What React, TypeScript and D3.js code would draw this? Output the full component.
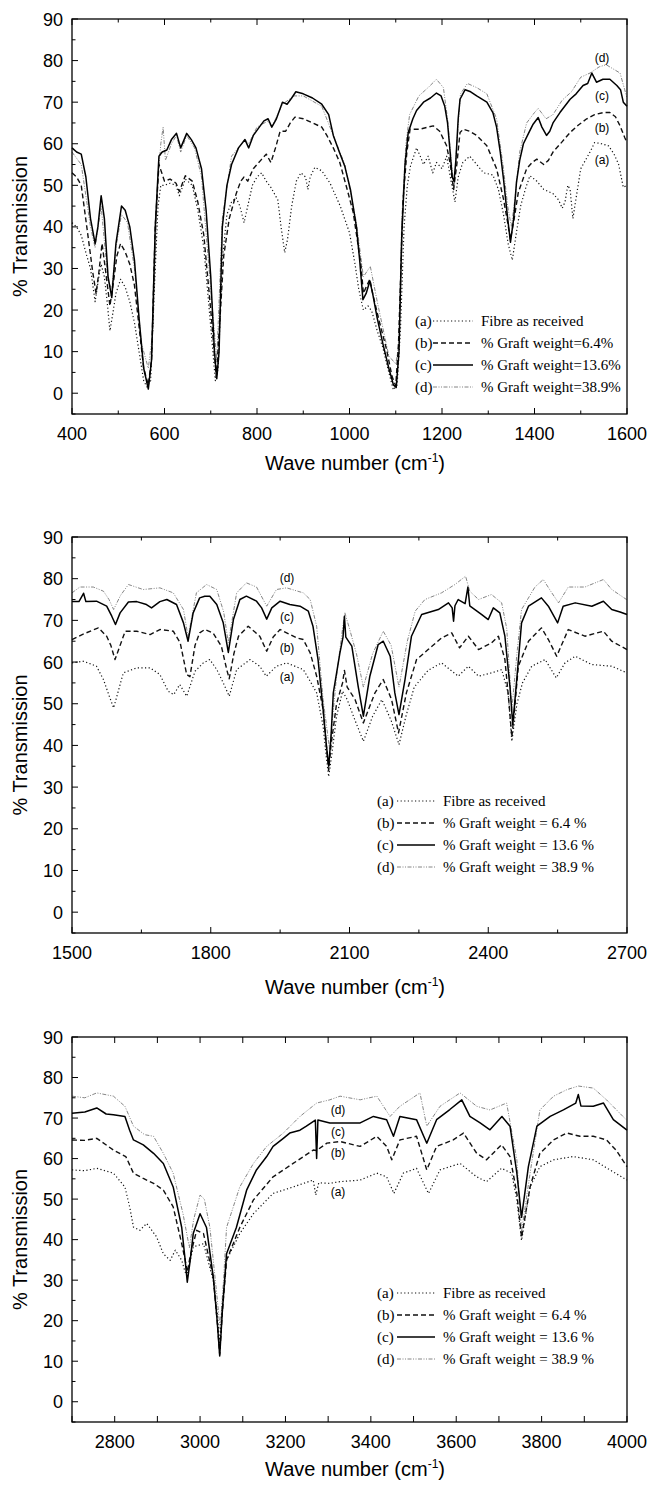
import React from "react";
import * as d3 from "d3";

type Pt = [number, number];

// ---- panel 1 : 400-1600 cm-1 ----
const p1A: Pt[] = [[400,41],[410,40],[420,38],[432,33],[440,30],[450,22],[458,28],[463,31],[470,28],[476,22],[482,15],[488,19],[495,24],[505,27.4],[515,25.5],[525,22],[535,17],[545,10],[555,3],[562,1.5],[570,3],[578,25],[586,45],[592,50],[600,50],[612,50.5],[625,50],[632,47.5],[645,51.5],[660,50],[672,44],[685,35],[700,16],[710,3],[716,6],[725,32],[735,43],[745,46],[755,47],[763,45],[772,41],[780,45],[790,50],[800,52],[810,53],[820,51],[830,49.5],[845,46.5],[852,40],[860,33.8],[866,37],[875,45],[885,51],[895,53],[905,52],[910,49],[915,52],[925,54.3],[940,53.5],[958,50.5],[980,45],[1000,38.6],[1012,31],[1020,25],[1030,20],[1040,21],[1048,19.8],[1060,15],[1072,11],[1085,5],[1095,0.8],[1103,2],[1110,15],[1118,40],[1125,50],[1132,54.7],[1145,59],[1153,57],[1160,55],[1170,57],[1180,53],[1188,55.5],[1200,54],[1210,57],[1218,52],[1228,46],[1235,52],[1245,55.5],[1260,57],[1275,55],[1290,53],[1310,52.5],[1322,49],[1333,43],[1343,36],[1352,32],[1360,38],[1370,45],[1380,49],[1390,52.3],[1405,51],[1420,49],[1440,48],[1452,46.5],[1460,44.5],[1466,46],[1472,50],[1477,49],[1483,42],[1490,47],[1500,54],[1510,56],[1520,58],[1530,60.3],[1545,60],[1560,59.5],[1572,57.5],[1582,55],[1592,49.5],[1600,50]];
const p1B: Pt[] = [[400,53],[410,52],[420,50],[432,40],[445,29],[452,24],[458,29],[465,36],[472,30],[482,21],[490,27],[497,33],[505,36],[515,34],[525,31],[535,26],[545,16],[555,6],[565,2],[572,8],[580,40],[588,55],[594,53],[600,51],[612,51.5],[625,50.5],[632,48.5],[645,52.3],[660,51],[672,46],[685,38],[700,20],[712,4],[720,18],[728,33],[740,42],[755,48],[765,51],[772,52],[780,51],[792,54],[808,56],[820,57.5],[830,55.5],[840,59],[850,63],[862,63],[872,65],[882,66.4],[900,66],[920,65],[940,64],[951,62],[965,59],[979,55.5],[995,49],[1008,43.5],[1018,36],[1025,30.6],[1030,24],[1038,26],[1044,27.4],[1050,24],[1065,17],[1080,10.6],[1092,4],[1100,1.8],[1106,12],[1116,46.7],[1124,58],[1131,63.5],[1152,63.5],[1170,64],[1181,64.3],[1195,63],[1210,59.5],[1218,55],[1225,49],[1232,55],[1239,62.7],[1246,63.5],[1260,63],[1275,62],[1297,59.5],[1318,54],[1333,46.7],[1342,41],[1348,37],[1356,42],[1365,48.3],[1383,54],[1395,55.5],[1405,56.3],[1420,55],[1430,56],[1440,58],[1460,60.5],[1477,62.7],[1495,64.5],[1513,66],[1530,67],[1549,67.5],[1563,67.5],[1575,66.5],[1585,64.3],[1595,61.5],[1600,60.3]];
const p1C: Pt[] = [[400,59],[410,58],[420,57.5],[430,52],[440,42],[450,36],[456,40],[463,47.5],[470,42],[478,28],[486,23],[495,36],[507,45],[515,44],[525,40],[535,32],[545,18],[555,6],[565,1],[572,8],[580,40],[588,57],[595,58],[605,58.5],[615,61],[626,62.5],[635,59],[648,62.5],[658,61],[668,59],[680,54],[690,44],[700,28],[708,10],[713,3.5],[718,10],[725,40],[735,50],[745,55],[760,59],[774,61],[782,59],[792,62],[805,64],[815,65.5],[824,66],[832,64],[842,66],[855,70],[865,69.5],[875,71],[884,72.5],[900,72],[920,71],[940,69.5],[955,67],[965,62],[978,58],[990,54.5],[1002,49],[1015,40],[1022,32],[1029,22.5],[1036,24],[1044,27],[1050,24],[1060,18],[1072,12],[1085,6],[1095,2],[1101,1.4],[1107,10],[1113,38],[1120,55],[1127,62.7],[1137,66],[1145,68],[1160,70],[1175,71],[1188,72.2],[1198,71.5],[1206,69],[1212,65],[1217,58.7],[1222,52],[1226,51],[1230,56],[1235,66],[1239,70.7],[1250,73],[1262,72.5],[1275,71.5],[1297,70],[1310,67.5],[1318,64],[1326,58],[1333,51.5],[1341,43],[1348,36.3],[1355,42],[1361,50.7],[1368,56],[1376,60],[1387,62.5],[1397,64.7],[1408,66.3],[1416,64],[1426,62],[1433,63],[1440,65],[1455,67.5],[1477,70.7],[1490,72],[1505,74],[1515,74.5],[1524,77],[1534,74.8],[1548,75.5],[1563,75.5],[1578,74],[1586,73],[1592,70],[1600,69]];
const p1D: Pt[] = [[400,58],[420,55],[440,40],[450,35],[463,45],[478,27],[486,25],[495,35],[507,43],[520,41],[535,30],[550,12],[565,6],[575,15],[585,50],[592,60],[597,64],[602,56],[615,60],[626,62],[635,58],[648,62],[665,59],[680,52],[700,25],[713,8],[725,42],[745,57],[774,61],[782,60],[800,64],[824,65.5],[832,64],[855,69.5],[880,71.5],[900,71.5],[940,69],[965,62],[990,55],[1015,41],[1030,28],[1045,30.5],[1060,22],[1085,9],[1100,7],[1107,12],[1113,42],[1122,60],[1130,67],[1150,71.5],[1170,73.5],[1188,75.5],[1203,73.5],[1212,66],[1220,56],[1226,49],[1232,60],[1240,72],[1255,74.5],[1275,73.5],[1297,72],[1318,66],[1333,54],[1342,45],[1350,40],[1358,47],[1368,58],[1383,65],[1400,67.5],[1408,68.5],[1425,66],[1440,67],[1460,70.5],[1480,72.5],[1500,76],[1520,77],[1540,78.5],[1555,79],[1570,78],[1585,77],[1595,73],[1600,71]];

// ---- panel 2 : 1500-2700 cm-1 ----
const p2A: Pt[] = [[1500,59.8],[1525,60.2],[1553,59],[1568,55.8],[1580,52],[1590,49],[1600,53],[1611,57.4],[1640,58.6],[1669,58.6],[1690,57],[1708,53],[1720,52.2],[1733,54.6],[1748,51.8],[1766,57.8],[1784,59.8],[1798,60.6],[1813,58.2],[1827,55],[1840,51.8],[1856,58.2],[1885,60.6],[1906,59],[1920,56.6],[1942,59],[1964,59.8],[2000,58.2],[2015,55.4],[2029,52.6],[2043,44.6],[2050,37],[2055,32.5],[2062,38],[2072,47],[2085,53],[2095,51],[2112,46],[2130,41],[2150,47],[2170,51],[2190,46],[2207,40.2],[2222,47],[2240,54],[2270,58],[2299,59.8],[2335,56.6],[2357,59],[2379,56.6],[2407,57.4],[2429,58.2],[2443,52.6],[2451,41],[2462,50],[2474,55],[2494,59],[2523,60.6],[2547,56.2],[2566,59.8],[2588,61.4],[2624,59.4],[2667,59],[2700,57.4]];
const p2B: Pt[] = [[1500,65.4],[1522,66.6],[1557,68.2],[1575,66.2],[1584,64],[1593,60.6],[1604,64],[1615,67.4],[1640,67.4],[1669,66.6],[1690,67.8],[1719,67.4],[1734,64.6],[1748,57],[1755,56.5],[1766,64],[1776,67],[1787,67.8],[1805,67],[1823,63.8],[1835,58],[1840,56],[1850,62],[1860,66.2],[1881,68.6],[1906,66.2],[1921,62.6],[1935,66],[1950,67.8],[1986,65.8],[2000,65.4],[2015,62.2],[2029,56.6],[2043,48.6],[2050,40],[2055,34],[2060,40],[2072,50],[2085,55],[2089,58],[2095,54],[2112,51],[2130,45.4],[2155,52.6],[2173,55.8],[2191,51],[2206,43],[2223,52.6],[2245,60.6],[2270,63],[2299,65.8],[2321,67],[2338,63.4],[2357,66.2],[2379,63],[2407,64.6],[2422,66.2],[2436,60.6],[2445,50],[2451,42],[2458,50],[2465,59],[2487,65],[2515,68.2],[2530,65.4],[2548,61.4],[2573,67.8],[2609,66.2],[2649,67.4],[2667,65],[2700,63]];
const p2C: Pt[] = [[1500,74.5],[1515,74.5],[1525,76.5],[1530,74.5],[1553,74.6],[1575,73.4],[1586,71],[1594,69],[1604,71.8],[1622,74.4],[1640,74.5],[1661,73.8],[1672,73],[1690,74.5],[1705,75],[1726,73.8],[1741,69.4],[1751,65],[1762,71.8],[1776,75.4],[1787,75.8],[1798,75.8],[1813,73.8],[1827,69.4],[1838,62.3],[1849,70.2],[1863,75],[1877,75.8],[1899,74.6],[1910,73],[1921,70.3],[1932,73],[1950,74.6],[1971,73.8],[1993,73.4],[2011,72.2],[2021,68.6],[2032,60.6],[2043,48.6],[2050,40],[2055,35],[2060,42],[2065,52.6],[2079,62],[2086,66],[2089,71],[2092,66],[2105,63.8],[2119,54],[2130,47],[2144,56.6],[2162,64.2],[2173,65],[2188,61.4],[2198,52.6],[2207,47.4],[2220,55.8],[2234,66.2],[2256,71.4],[2292,72.6],[2314,74.2],[2322,73],[2325,69.8],[2328,73.5],[2335,75],[2350,74],[2356,78],[2360,73.5],[2386,71.4],[2400,70.2],[2411,73],[2425,71.8],[2436,66.2],[2447,54],[2453,45],[2461,55],[2472,69.4],[2487,73.4],[2515,75.4],[2530,73.4],[2550,69.4],[2562,73.4],[2588,74.2],[2624,73.4],[2649,74.6],[2667,72.6],[2685,72],[2700,71.4]];
const p2D: Pt[] = [[1500,76.6],[1517,78],[1546,78],[1568,77],[1580,75],[1590,72.6],[1605,76],[1622,78.6],[1654,77.4],[1690,77.8],[1719,76.6],[1741,72.6],[1751,66],[1769,76.6],[1791,78.6],[1813,77.4],[1828,72],[1838,64.6],[1856,76.6],[1877,79],[1899,78],[1921,73.4],[1942,77.4],[1964,77.8],[2000,76.6],[2015,75],[2029,68.6],[2043,51],[2057,39],[2072,56.6],[2085,68],[2090,71.8],[2100,68],[2115,62],[2130,54],[2150,62],[2173,67.4],[2190,64],[2207,54],[2225,65],[2242,72.2],[2263,75],[2299,76.6],[2328,78.6],[2351,80.6],[2360,77],[2379,75],[2407,76.2],[2429,74.2],[2440,68],[2451,48.6],[2462,62],[2472,72.6],[2501,78],[2519,79.8],[2535,77],[2552,74.2],[2573,78],[2609,78],[2649,79.8],[2667,77.4],[2699,75]];

// ---- panel 3 : 2700-4000 cm-1 ----
const p3A: Pt[] = [[2700,57.2],[2730,57],[2758,57.6],[2797,56.4],[2824,53],[2835,48.1],[2844,43.1],[2859,42.3],[2875,44],[2898,40.7],[2914,36.5],[2930,34.9],[2942,37.4],[2957,34.9],[2965,32],[2970,31.6],[2984,38.2],[3008,39],[3031,29.9],[3040,22],[3046,14.2],[3052,24],[3062,34.9],[3093,41.5],[3125,46.4],[3171,51.4],[3218,53],[3265,54.7],[3271,51],[3278,54],[3304,53.9],[3328,54.3],[3375,54.7],[3414,56.4],[3437,55.5],[3454,51.4],[3476,56.4],[3507,57.6],[3535,51.4],[3562,57.2],[3609,58.8],[3648,55.5],[3671,54.3],[3706,57.6],[3730,56.4],[3742,49.8],[3753,39.8],[3773,53],[3796,58],[3828,59.7],[3874,60.5],[3921,59.7],[3960,57.2],[4000,54.7]];
const p3B: Pt[] = [[2700,64.6],[2730,64.5],[2758,65],[2797,62.1],[2826,60.5],[2844,56.4],[2867,55.1],[2891,53.9],[2914,52.2],[2937,48.1],[2957,39],[2965,35],[2970,32],[2977,36],[2992,42.3],[3008,41.5],[3031,30.7],[3040,20],[3046,11.7],[3052,22],[3062,34.9],[3093,43],[3125,49.8],[3171,55.5],[3218,58.8],[3265,62.1],[3273,62],[3297,63.8],[3328,64.2],[3375,63],[3414,65.5],[3437,63],[3449,59.7],[3468,64.6],[3507,65.5],[3531,57.2],[3554,63],[3593,64.6],[3617,66.3],[3648,61.3],[3671,59.7],[3706,63.4],[3726,60.5],[3742,51.4],[3753,40.5],[3773,53],[3796,61.3],[3828,64.6],[3859,66.3],[3890,65.5],[3921,65.5],[3952,64.6],[3975,62],[4000,58]];
const p3C: Pt[] = [[2700,71.2],[2730,71.5],[2758,72.5],[2780,71],[2797,70.8],[2824,70.4],[2835,67],[2844,64.6],[2867,63.4],[2891,61.3],[2914,58.8],[2937,53],[2957,43],[2965,35],[2970,29.5],[2977,35],[2984,41.5],[3000,46.4],[3015,43],[3031,30.7],[3040,20],[3046,11.3],[3052,22],[3062,36.5],[3085,43],[3109,52.2],[3132,57.2],[3156,60.5],[3171,63],[3195,65],[3210,66.3],[3234,67],[3249,68],[3270,69.5],[3273,60],[3276,69.5],[3304,68.8],[3328,68.8],[3375,68.8],[3406,70.4],[3437,69.6],[3453,65.5],[3468,70.4],[3507,69.6],[3531,63.8],[3554,69.6],[3585,72.1],[3613,74.5],[3632,70.4],[3656,68.8],[3679,67.1],[3707,70.4],[3726,68],[3742,56.4],[3753,45.5],[3769,58],[3789,68],[3820,70.4],[3851,72],[3880,73.7],[3886,75.8],[3892,73],[3921,72.9],[3945,73.7],[3968,69.6],[4000,67]];
const p3D: Pt[] = [[2700,75.4],[2730,75],[2758,76.2],[2797,75.4],[2824,72.9],[2844,68],[2870,65.9],[2891,65.5],[2914,61.3],[2937,56.4],[2960,46.4],[2975,38],[2985,45],[3000,51],[3010,50],[3023,43],[3039,26.6],[3047,18],[3055,30],[3062,43],[3093,53],[3125,58.8],[3156,63],[3195,66.3],[3234,70.4],[3273,73.7],[3304,74.5],[3328,75.4],[3375,74.5],[3414,75.4],[3445,70.4],[3468,72.9],[3515,76.2],[3531,68],[3562,72.9],[3609,76.2],[3648,72.9],[3679,72],[3718,73.7],[3742,59.7],[3753,42],[3773,56.4],[3796,72],[3828,75.4],[3859,77],[3886,77.9],[3921,77.4],[3952,74.5],[3998,69.6]];

const yTicks = [0, 10, 20, 30, 40, 50, 60, 70, 80, 90];
const p1XTicks = [400, 600, 800, 1000, 1200, 1400, 1600];
const p2XTicks = [1500, 1800, 2100, 2400, 2700];
const p3XTicks = [2800, 3000, 3200, 3400, 3600, 3800, 4000];

const seriesKeys = ["a", "b", "c", "d"];
const legend1 = ["Fibre as received", "% Graft weight=6.4%", "% Graft weight=13.6%", "% Graft weight=38.9%"];
const legend23 = ["Fibre as received", "% Graft weight = 6.4 %", "% Graft weight = 13.6 %", "% Graft weight = 38.9 %"];

const styles: Record<string, any> = {
  a: { stroke: "#111", width: 1.2, dash: "1.2,2.4" },
  b: { stroke: "#111", width: 1.4, dash: "5,3" },
  c: { stroke: "#000", width: 1.5, dash: null },
  d: { stroke: "#777", width: 0.9, dash: "4,1.5,1,1.5,1,1.5" },
};

const L = 72, R = 627;
const SANS = "'Liberation Sans', Arial, sans-serif";
const SERIF = "'Liberation Serif', 'Times New Roman', serif";

const panels = [
  { xDomain: [400, 1600], top: 19, bottom: 414, data: [p1A, p1B, p1C, p1D], ticks: p1XTicks, minorStep: 100,
    legend: legend1, leg: { x: 415, line: [433, 473], tx: 481, y0: 321 },
    labels: { x: 602, ys: [160, 128, 96, 58] }, titleY: 470 },
  { xDomain: [1500, 2700], top: 537, bottom: 933, data: [p2A, p2B, p2C, p2D], ticks: p2XTicks, minorStep: 150,
    legend: legend23, leg: { x: 377, line: [397, 435], tx: 443, y0: 801 },
    labels: { x: 287, ys: [677, 648, 617, 578] }, titleY: 994 },
  { xDomain: [2700, 4000], top: 1037, bottom: 1422, data: [p3A, p3B, p3C, p3D], ticks: p3XTicks, minorStep: 100,
    legend: legend23, leg: { x: 377, line: [397, 435], tx: 443, y0: 1293 },
    labels: { x: 338, ys: [1192, 1153, 1132, 1110] }, titleY: 1476 },
];

function Panel({ p }: { p: any }) {
  const x = d3.scaleLinear().domain(p.xDomain).range([L, R]);
  const y = d3.scaleLinear().domain([-5, 90]).range([p.bottom, p.top]);
  const line = d3.line<Pt>().x(d => x(d[0])).y(d => y(d[1]));
  const minorX = d3.range(p.xDomain[0], p.xDomain[1] + 1, p.minorStep);
  const minorY = d3.range(-5, 91, 5);
  const order = [3, 0, 1, 2];

  return (
    <g>
      {order.map(i => {
        const s = styles[seriesKeys[i]];
        return <path key={i} d={line(p.data[i]) || ""} fill="none" stroke={s.stroke} strokeWidth={s.width}
          strokeDasharray={s.dash || undefined} strokeLinejoin="round" />;
      })}
      <rect x={L} y={p.top} width={R - L} height={p.bottom - p.top} fill="none" stroke="#000" strokeWidth={1.3} />
      {minorY.map(v => (
        <line key={"y" + v} x1={L} x2={L + (v % 10 === 0 ? 6 : 3.5)} y1={y(v)} y2={y(v)} stroke="#000" strokeWidth={1} />
      ))}
      {minorX.map(v => {
        const major = p.ticks.includes(v) || (v - p.xDomain[0]) % (p.minorStep * 2) === 0;
        const len = major ? 6 : 3.5;
        return (
          <g key={"x" + v}>
            <line x1={x(v)} x2={x(v)} y1={p.bottom} y2={p.bottom - len} stroke="#000" strokeWidth={1} />
            <line x1={x(v)} x2={x(v)} y1={p.top} y2={p.top + len} stroke="#000" strokeWidth={1} />
          </g>
        );
      })}
      {yTicks.map(v => (
        <text key={"yl" + v} x={L - 9} y={y(v) + 6.5} textAnchor="end" fontFamily={SANS} fontSize={18}>{v}</text>
      ))}
      {p.ticks.map((v: number) => (
        <text key={"xl" + v} x={x(v)} y={p.bottom + 26} textAnchor="middle" fontFamily={SANS} fontSize={18}>{v}</text>
      ))}
      <text x={355} y={p.titleY} textAnchor="middle" fontFamily={SANS} fontSize={20}>
        Wave number (cm<tspan fontSize={12} dy={-8}>-1</tspan><tspan dy={8}>)</tspan>
      </text>
      <text transform={`translate(27,${(p.top + p.bottom) / 2 + 10}) rotate(-90)`} textAnchor="middle"
        fontFamily={SANS} fontSize={20}>% Transmission</text>
      {seriesKeys.map((k, i) => (
        <text key={"lab" + k} x={p.labels.x} y={p.labels.ys[i] + 4} textAnchor="middle" fontFamily={SANS} fontSize={12}>({k})</text>
      ))}
      {seriesKeys.map((k, i) => {
        const s = styles[k];
        const cy = p.leg.y0 + i * 22;
        return (
          <g key={"leg" + k}>
            <text x={p.leg.x} y={cy + 5} fontFamily={SERIF} fontSize={15}>({k})</text>
            <line x1={p.leg.line[0]} x2={p.leg.line[1]} y1={cy} y2={cy} stroke={s.stroke} strokeWidth={s.width}
              strokeDasharray={s.dash || undefined} />
            <text x={p.leg.tx} y={cy + 5} fontFamily={SERIF} fontSize={15}>{p.legend[i]}</text>
          </g>
        );
      })}
    </g>
  );
}

export default function App() {
  return (
    <svg width={652} height={1500} style={{ position: "absolute", left: 0, top: 0, background: "#fff" }}>
      <rect width={652} height={1500} fill="#fff" />
      {panels.map((p, i) => <Panel key={i} p={p} />)}
    </svg>
  );
}
